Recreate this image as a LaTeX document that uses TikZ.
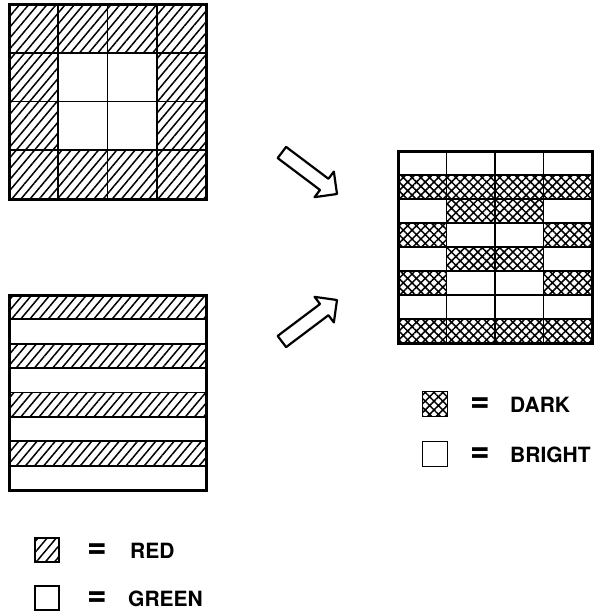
\documentclass[tikz,border=0pt]{standalone}
\usepackage{fontspec}
\setmainfont{TeX Gyre Heros}
\usetikzlibrary{patterns.meta,positioning}

\tikzset{
  redfill/.style={pattern={Lines[angle=50,distance=7pt,line width=1.5pt]}},
  darkfill/.style={pattern={Hatch[angle=45,distance=6.2pt,line width=1.5pt]}},
  cellline/.style={line width=1.8pt},
  frame/.style={line width=3pt},
  keybox/.style={draw, line width=1.8pt, minimum size=24pt, inner sep=0pt},
  keytext/.style={font=\fontsize{21}{21}\selectfont\bfseries, inner sep=0pt},
  blockarrow/.style={draw, line width=2.2pt, fill=white, line join=round},
}
\newcommand{\keyeq}{\scalebox{1.6}[1.8]{=}}

\begin{document}
\begin{tikzpicture}[x=1pt, y=-1pt]
    \useasboundingbox (0,0) rectangle (595,616);

    % square pattern: red border, green centre
    \fill[redfill] (9,4) rectangle (206,199);
    \fill[white] (58.25,52.75) rectangle (156.75,150.25);
    \foreach \k in {1,2,3} {
        \draw[cellline] ({9+49.25*\k},4) -- ({9+49.25*\k},199);
        \draw[cellline] (9,{4+48.75*\k}) -- (206,{4+48.75*\k});
    }
    \draw[frame] (9,4) rectangle (206,199);

    % stripe pattern
    \foreach \k in {0,2,4,6}
        \fill[redfill] (9,{295+24.375*\k}) rectangle (206,{295+24.375*(\k+1)});
    \foreach \k in {1,...,7}
        \draw[cellline] (9,{295+24.375*\k}) -- (206,{295+24.375*\k});
    \draw[frame] (9,295) rectangle (206,490);

    % result grid
    \foreach \c/\r in {0/1,1/1,2/1,3/1,1/2,2/2,0/3,3/3,1/4,2/4,0/5,3/5,0/7,1/7,2/7,3/7}
        \fill[darkfill] ({398+48.5*\c},{151+24*\r}) rectangle ++(48.5,24);
    \foreach \k in {1,2,3}
        \draw[cellline] ({398+48.5*\k},151) -- ({398+48.5*\k},343);
    \foreach \k in {1,...,7}
        \draw[cellline] (398,{151+24*\k}) -- (592,{151+24*\k});
    \draw[frame] (398,151) rectangle (592,343);

    % hollow arrows
    \draw[blockarrow, shift={(337,194)}, rotate=-37] (0,0) -- (-16,16) -- (-16,7) -- (-69,7) -- (-69,-7) -- (-16,-7) -- (-16,-16) -- cycle;
    \draw[blockarrow, shift={(337,300)}, rotate=37] (0,0) -- (-16,16) -- (-16,7) -- (-69,7) -- (-69,-7) -- (-16,-7) -- (-16,-16) -- cycle;

    % keys
    \node[keybox, darkfill, minimum size=25pt] (darkkey) at (435,404) {};
    \node[keytext] (darkeq) at (480,405) {\keyeq};
    \node[keytext, anchor=west] (darklbl) at (510,405) {DARK};
    \node[keybox, minimum size=25pt] (brightkey) at (435,454) {};
    \node[keytext] (brighteq) at (480,455) {\keyeq};
    \node[keytext, anchor=west] (brightlbl) at (510,455) {BRIGHT};

    \node[keybox, redfill] (redkey) at (47,550) {};
    \node[keytext] (redeq) at (97,551) {\keyeq};
    \node[keytext, anchor=west] (redlbl) at (130,551) {RED};
    \node[keybox] (greenkey) at (47,598) {};
    \node[keytext] (greeneq) at (97,599) {\keyeq};
    \node[keytext, anchor=west] (greenlbl) at (128,599) {GREEN};
\end{tikzpicture}
\end{document}
